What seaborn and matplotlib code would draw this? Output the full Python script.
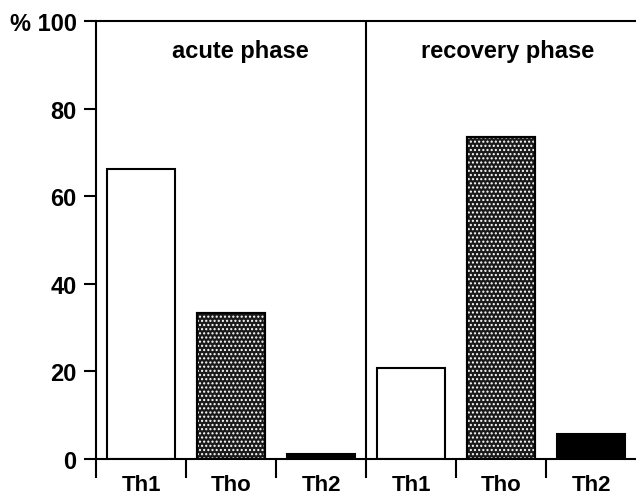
import matplotlib
matplotlib.use("Agg")
import matplotlib.pyplot as plt
import seaborn as sns
import pandas as pd
import numpy as np

# data
phases = ["acute phase", "recovery phase"]
subsets = ["Th1", "Tho", "Th2"]
acute_values = [66.2, 33.4, 1.0]
recovery_values = [20.8, 73.5, 5.7]
y_ticks = [0, 20, 40, 60, 80, 100]
y_tick_labels = ["0", "20", "40", "60", "80", "% 100"]

df = pd.DataFrame({
    "phase": [phases[0]] * 3 + [phases[1]] * 3,
    "subset": subsets * 2,
    "value": acute_values + recovery_values,
})
df["key"] = df["phase"] + " " + df["subset"]

sns.set_style("white")
plt.rcParams["font.family"] = ["Liberation Sans", "DejaVu Sans"]
plt.rcParams["font.weight"] = "bold"
plt.rcParams["text.color"] = "black"
plt.rcParams["xtick.color"] = "black"
plt.rcParams["ytick.color"] = "black"

fig = plt.figure(figsize=(6.36, 5.02), dpi=100)
ax = fig.add_axes([0.151, 0.084, 0.849, 0.872])

sns.barplot(data=df, x="key", y="value", order=list(df["key"]), width=0.75,
            color="white", edgecolor="black", linewidth=1.5, ax=ax)

for patch, sub in zip(ax.patches, df["subset"]):
    if sub == "Th2":
        patch.set_facecolor("black")
    elif sub == "Tho":
        patch.set_facecolor("#1a1a1a")
        # white stipple over dark fill, then black outline on top
        x, w = patch.get_x(), patch.get_width()
        h = patch.get_height()
        dots = plt.Rectangle((x, 0), w, h, facecolor="none", edgecolor="white",
                             hatch="....", linewidth=0, zorder=patch.get_zorder() + 0.1)
        ax.add_patch(dots)
        outline = plt.Rectangle((x, 0), w, h, facecolor="none", edgecolor="black",
                                linewidth=1.5, zorder=patch.get_zorder() + 0.2)
        ax.add_patch(outline)

ax.set_xlim(-0.5, 5.5)
ax.set_ylim(0, 100)

# divider between the phases
ax.axvline(2.5, color="black", linewidth=1.5)

label_x = [1.1, 4.07]
for lx, ph in zip(label_x, phases):
    ax.text(lx, 93.3, ph, ha="center", va="center", fontsize=17, fontweight="bold")

ax.set_yticks(y_ticks)
ax.set_yticklabels(y_tick_labels, fontsize=17, fontweight="bold")

ax.set_xticks(np.arange(-0.5, 5.0, 1.0))
ax.set_xticklabels([])
ax.set_xticks(np.arange(6), minor=True)
ax.set_xticklabels(subsets * 2, minor=True, fontsize=16, fontweight="bold")

ax.tick_params(axis="x", which="major", direction="out", length=14, width=1.5, color="black", bottom=True)
ax.tick_params(axis="x", which="minor", length=0, pad=11)
ax.tick_params(axis="y", direction="out", length=9, width=1.5, color="black", left=True, pad=5)

ax.set_xlabel("")
ax.set_ylabel("")
ax.spines["right"].set_visible(False)
for side in ["left", "bottom", "top"]:
    ax.spines[side].set_color("black")
    ax.spines[side].set_linewidth(1.5)

fig.savefig("out.png", dpi=100)
